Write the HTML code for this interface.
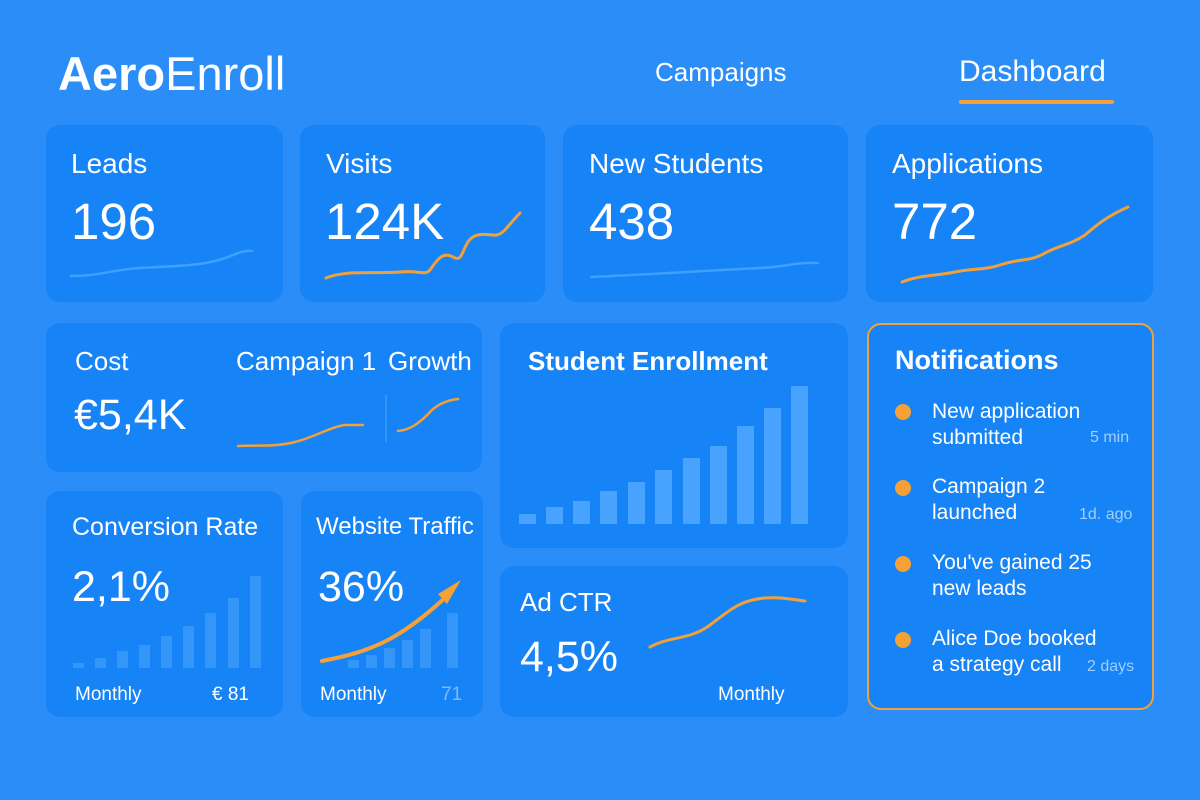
<!DOCTYPE html>
<html><head><meta charset="utf-8"><style>
*{margin:0;padding:0;box-sizing:border-box}
body{width:1200px;height:800px;overflow:hidden;background:#2b8df8;font-family:"Liberation Sans",sans-serif;color:#fff;position:relative}
.c{position:absolute;background:#1683f6;border-radius:14px}
.t{position:absolute;font-size:28px}
.v{position:absolute;font-size:51px}
.s{position:absolute;font-size:19px}
svg{position:absolute;left:0;top:0}
</style></head><body>
<div class="t" style="left:58px;top:46px;font-size:47px;letter-spacing:0px"><b>Aero</b>Enroll</div>
<div class="t" style="left:655px;top:57px;font-size:26px">Campaigns</div>
<div class="t" style="left:959px;top:55px;font-size:30px">Dashboard</div>
<div style="position:absolute;left:959px;top:100px;width:155px;height:4px;background:#f6a135;border-radius:2px"></div>

<div class="c" style="left:46px;top:125px;width:237px;height:177px"></div>
<div class="c" style="left:300px;top:125px;width:245px;height:177px"></div>
<div class="c" style="left:563px;top:125px;width:285px;height:177px"></div>
<div class="c" style="left:866px;top:125px;width:287px;height:177px"></div>
<div class="c" style="left:46px;top:323px;width:436px;height:149px"></div>
<div class="c" style="left:500px;top:323px;width:348px;height:225px"></div>
<div class="c" style="left:867px;top:323px;width:287px;height:387px;border:2.5px solid #f0a13a"></div>
<div class="c" style="left:46px;top:491px;width:237px;height:226px"></div>
<div class="c" style="left:301px;top:491px;width:182px;height:226px"></div>
<div class="c" style="left:500px;top:566px;width:348px;height:151px"></div>

<div class="t" style="left:71px;top:148px">Leads</div>
<div class="v" style="left:71px;top:192px">196</div>
<div class="t" style="left:326px;top:148px">Visits</div>
<div class="v" style="left:325px;top:192px">124K</div>
<div class="t" style="left:589px;top:148px">New Students</div>
<div class="v" style="left:589px;top:192px">438</div>
<div class="t" style="left:892px;top:148px">Applications</div>
<div class="v" style="left:892px;top:192px">772</div>
<div class="t" style="left:75px;top:346px;font-size:26px">Cost</div>
<div class="t" style="left:236px;top:346px;font-size:26px">Campaign 1</div>
<div class="t" style="left:388px;top:346px;font-size:26px">Growth</div>
<div class="v" style="left:74px;top:391px;font-size:43px">€5,4K</div>
<div class="t" style="left:528px;top:346px;font-weight:bold;font-size:26px">Student Enrollment</div>
<div class="t" style="left:895px;top:345px;font-weight:bold;font-size:27px">Notifications</div>
<div class="t" style="left:72px;top:513px;font-size:25px">Conversion Rate</div>
<div class="v" style="left:72px;top:563px;font-size:43px">2,1%</div>
<div class="s" style="left:75px;top:684px">Monthly</div>
<div class="s" style="left:212px;top:684px">€ 81</div>
<div class="t" style="left:316px;top:513px;font-size:24px">Website Traffic</div>
<div class="v" style="left:318px;top:563px;font-size:43px">36%</div>
<div class="s" style="left:320px;top:684px">Monthly</div>
<div class="s" style="left:441px;top:684px;color:#7fbaff">71</div>
<div class="t" style="left:520px;top:587px;font-size:26px">Ad CTR</div>
<div class="v" style="left:520px;top:633px;font-size:43px">4,5%</div>
<div class="s" style="left:718px;top:684px">Monthly</div>

<div style="position:absolute;left:932px;top:399px;font-size:21px;line-height:26px">New application<br>submitted</div>
<div style="position:absolute;left:932px;top:474px;font-size:21px;line-height:26px">Campaign 2<br>launched</div>
<div style="position:absolute;left:932px;top:550px;font-size:21px;line-height:26px">You've gained 25<br>new leads</div>
<div style="position:absolute;left:932px;top:626px;font-size:21px;line-height:26px">Alice Doe booked<br>a strategy call</div>
<div style="position:absolute;left:1090px;top:429px;font-size:16px;color:#9fd0ff">5 min</div>
<div style="position:absolute;left:1079px;top:506px;font-size:16px;color:#9fd0ff">1d. ago</div>
<div style="position:absolute;left:1087px;top:658px;font-size:16px;color:#9fd0ff">2 days</div>

<svg width="1200" height="800">
<g fill="#f6a135"><circle cx="903" cy="412" r="8"/><circle cx="903" cy="488" r="8"/><circle cx="903" cy="564" r="8"/><circle cx="903" cy="640" r="8"/></g>
<g fill="none" stroke-linecap="round">
<path d="M71 276 C100 276 110 270 140 268 C180 266 200 265 215 261 C235 256 240 250 252 251" stroke="#3ea0ff" stroke-width="2.5"/>
<path d="M591 277 C640 275 700 271 760 268 C785 267 795 262 818 263" stroke="#3ea0ff" stroke-width="2.5"/>
<path d="M326 278 C345 270 370 274 400 272 C420 270 425 276 430 270 C440 255 445 252 455 258 C465 262 462 238 478 235 C490 232 495 240 505 230 C512 222 515 218 520 213" stroke="#f0a13a" stroke-width="3"/>
<path d="M902 282 C920 275 935 276 955 272 C975 268 985 270 1000 265 C1020 258 1030 262 1045 253 C1060 245 1070 245 1085 235 C1100 222 1110 215 1128 207" stroke="#f0a13a" stroke-width="3"/>
<path d="M238 446 C260 445 275 447 295 442 C315 437 330 427 345 425 L363 425" stroke="#f0a13a" stroke-width="2.5"/>
<path d="M398 431 C410 430 420 423 432 410 C440 403 448 400 458 399" stroke="#f0a13a" stroke-width="2.5"/>
<line x1="386" y1="395" x2="386" y2="442" stroke="#4aa5ff" stroke-width="1"/>
<path d="M650 647 C670 636 690 640 710 625 C730 610 740 600 765 598 C785 597 795 600 805 601" stroke="#f0a13a" stroke-width="3"/>
<path d="M322 661 C370 652 400 640 448 595" stroke="#f6a135" stroke-width="4"/>
</g>
<polygon points="461,580 447,604 438,594" fill="#f6a135"/>
<g fill="#48a3ff">
<rect x="519" y="514" width="17" height="10"/><rect x="546" y="507" width="17" height="17"/><rect x="573" y="501" width="17" height="23"/><rect x="600" y="491" width="17" height="33"/><rect x="628" y="482" width="17" height="42"/><rect x="655" y="470" width="17" height="54"/><rect x="683" y="458" width="17" height="66"/><rect x="710" y="446" width="17" height="78"/><rect x="737" y="426" width="17" height="98"/><rect x="764" y="408" width="17" height="116"/><rect x="791" y="386" width="17" height="138"/>
</g>
<g fill="#3596fa">
<rect x="73" y="663" width="11" height="5"/><rect x="95" y="658" width="11" height="10"/><rect x="117" y="651" width="11" height="17"/><rect x="139" y="645" width="11" height="23"/><rect x="161" y="636" width="11" height="32"/><rect x="183" y="626" width="11" height="42"/><rect x="205" y="613" width="11" height="55"/><rect x="228" y="598" width="11" height="70"/><rect x="250" y="576" width="11" height="92"/>
<rect x="348" y="660" width="11" height="8"/><rect x="366" y="655" width="11" height="13"/><rect x="384" y="648" width="11" height="20"/><rect x="402" y="640" width="11" height="28"/><rect x="420" y="629" width="11" height="39"/><rect x="447" y="613" width="11" height="55"/>
</g>
</svg>
</body></html>
